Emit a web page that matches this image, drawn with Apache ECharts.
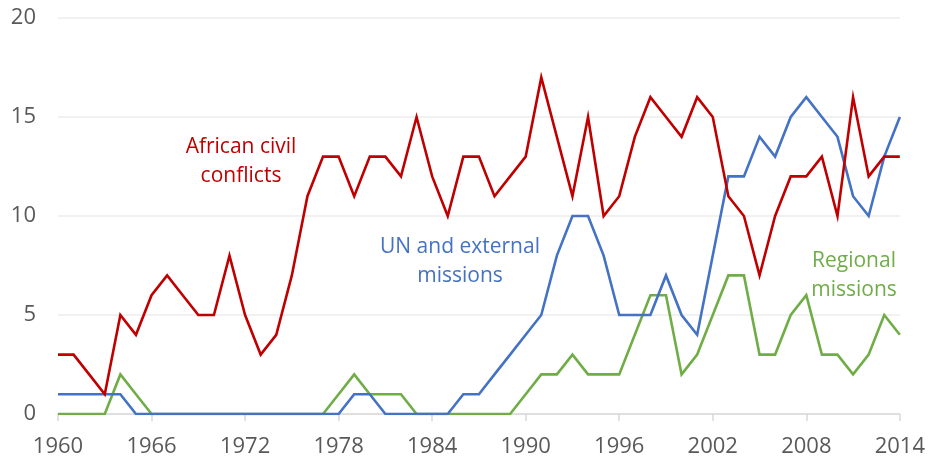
<!DOCTYPE html>
<html>
<head>
<meta charset="utf-8">
<script src="https://cdn.jsdelivr.net/npm/echarts@6/dist/echarts.min.js"></script>
<style>html,body{margin:0;padding:0;background:#fff}#c{width:928px;height:460px}</style>
</head>
<body>
<div id="c"></div>
<script>
const years = [];
for (let y = 1960; y <= 2014; y++) years.push(String(y));

const africanCivilConflicts = [3,3,2,1,5,4,6,7,6,5,5,8,5,3,4,7,11,13,13,11,13,13,12,15,12,10,13,13,11,12,13,17,14,11,15,10,11,14,16,15,14,16,15,11,10,7,10,12,12,13,10,16,12,13,13];
const unExternalMissions = [1,1,1,1,1,0,0,0,0,0,0,0,0,0,0,0,0,0,0,1,1,0,0,0,0,0,1,1,2,3,4,5,8,10,10,8,5,5,5,7,5,4,8,12,12,14,13,15,16,15,14,11,10,13,15];
const regionalMissions = [0,0,0,0,2,1,0,0,0,0,0,0,0,0,0,0,0,0,1,2,1,1,1,0,0,0,0,0,0,0,1,2,2,3,2,2,2,4,6,6,2,3,5,7,7,3,3,5,6,3,3,2,3,5,4];

const yTicks = [0, 5, 10, 15, 20];

const FONT = 'Open Sans';
const chart = echarts.init(document.getElementById('c'), null, {renderer: 'canvas'});

function lineSeries(name, data, color) {
  return {
    name, type: 'line', data,
    symbol: 'none', smooth: false,
    lineStyle: {color, width: 2.6, join: 'miter'},
    itemStyle: {color},
    animation: false
  };
}

chart.setOption({
  animation: false,
  backgroundColor: '#ffffff',
  grid: {left: 58, right: 28, top: 18, bottom: 46, containLabel: false},
  xAxis: {
    type: 'category',
    data: years,
    boundaryGap: false,
    axisLine: {show: true, lineStyle: {color: '#d9d9d9', width: 1.5}},
    axisTick: {show: true, interval: 5, length: 7, lineStyle: {color: '#d9d9d9', width: 1.5}},
    axisLabel: {interval: 5, margin: 22, color: '#595959', fontFamily: FONT, fontSize: 22},
    splitLine: {show: false}
  },
  yAxis: {
    type: 'value',
    min: yTicks[0], max: yTicks[yTicks.length - 1], interval: 5,
    axisLine: {show: false},
    axisTick: {show: false},
    axisLabel: {margin: 22, color: '#595959', fontFamily: FONT, fontSize: 22},
    splitLine: {show: true, lineStyle: {color: '#ececec', width: 1.5}}
  },
  series: [
    lineSeries('Regional missions', regionalMissions, '#70AD47'),
    lineSeries('UN and external missions', unExternalMissions, '#4472C4'),
    lineSeries('African civil conflicts', africanCivilConflicts, '#C00000')
  ],
  graphic: [
    {type: 'text', x: 241, y: 133, style: {text: 'African civil\nconflicts', fill: '#C00000', font: '21px "Open Sans"', textAlign: 'center', textVerticalAlign: 'top', lineHeight: 29}},
    {type: 'text', x: 460, y: 233, style: {text: 'UN and external\nmissions', fill: '#4472C4', font: '21px "Open Sans"', textAlign: 'center', textVerticalAlign: 'top', lineHeight: 29}},
    {type: 'text', x: 854, y: 247, style: {text: 'Regional\nmissions', fill: '#70AD47', font: '21px "Open Sans"', textAlign: 'center', textVerticalAlign: 'top', lineHeight: 29}}
  ]
});
</script>
</body>
</html>
